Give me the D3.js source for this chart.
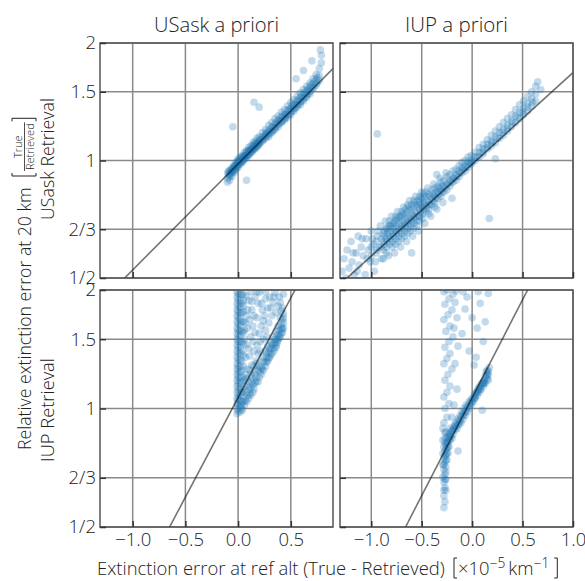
<!DOCTYPE html>
<html>
<head>
<meta charset="utf-8">
<script src="https://cdn.jsdelivr.net/npm/d3@7"></script>
<style>
  body { margin: 0; background: #fff; }
  text { font-family: "Open Sans", Lato, sans-serif; font-weight: 300; fill: #222; }
</style>
</head>
<body>
<div id="viz"></div>
<script>
// axis ticks / labels
var yTicks = [0.5, 2 / 3, 1, 1.5, 2];
var yTickLabels = ["1/2", "2/3", "1", "1.5", "2"];
var xTicks = [-1.0, -0.5, 0.0, 0.5, 1.0];
var xTickLabels = ["\u22121.0", "\u22120.5", "0.0", "0.5", "1.0"];
var colTitles = ["USask a priori", "IUP a priori"];
var rowTitles = ["USask Retrieval", "IUP Retrieval"];
var xDomains = [[-1.31, 0.9], [-1.31, 1.0]];

// fitted lines (two end points each, data units)
var fitUsaskUsask = [[-1.076, 0.5], [0.9, 1.72]];
var fitUsaskIup = [[-1.24, 0.5], [1.0, 1.68]];
var fitIupUsask = [[-0.65, 0.5], [0.54, 2.0]];
var fitIupIup = [[-0.66, 0.5], [0.55, 2.0]];

// scatter: [extinction error, relative error]
var ptsUsaskUsask = [
  [-0.10,0.90],[-0.10,0.93],[-0.10,0.88],[-0.08,0.91],[-0.08,0.94],[-0.08,0.89],[-0.08,0.92],
  [-0.06,0.93],[-0.06,0.95],[-0.06,0.91],[-0.06,0.94],[-0.04,0.94],[-0.04,0.96],[-0.04,0.93],[-0.04,0.97],
  [-0.02,0.95],[-0.02,0.97],[-0.02,0.99],[-0.02,0.96],[0.00,0.97],[0.00,0.99],[0.00,1.00],[0.00,0.96],[0.00,1.01],
  [0.02,0.99],[0.02,1.00],[0.02,1.02],[0.02,0.98],[0.04,1.00],[0.04,1.02],[0.04,1.03],[0.04,0.99],
  [0.06,1.01],[0.06,1.03],[0.06,1.05],[0.06,1.02],[0.08,1.03],[0.08,1.05],[0.08,1.06],[0.08,1.02],
  [0.10,1.04],[0.10,1.06],[0.10,1.08],[0.10,1.03],[0.12,1.05],[0.12,1.07],[0.12,1.09],[0.12,1.06],
  [0.14,1.06],[0.14,1.09],[0.14,1.11],[0.14,1.07],[0.16,1.08],[0.16,1.10],[0.16,1.12],[0.16,1.07],
  [0.18,1.09],[0.18,1.11],[0.18,1.14],[0.18,1.10],[0.20,1.10],[0.20,1.13],[0.20,1.15],[0.20,1.11],
  [0.23,1.12],[0.23,1.15],[0.23,1.18],[0.23,1.13],[0.26,1.14],[0.26,1.17],[0.26,1.20],[0.26,1.16],
  [0.29,1.17],[0.29,1.19],[0.29,1.23],[0.29,1.15],[0.32,1.19],[0.32,1.22],[0.32,1.25],[0.32,1.18],
  [0.35,1.21],[0.35,1.24],[0.35,1.28],[0.35,1.20],[0.38,1.24],[0.38,1.27],[0.38,1.30],[0.38,1.22],
  [0.41,1.26],[0.41,1.29],[0.41,1.33],[0.41,1.25],[0.44,1.28],[0.44,1.31],[0.44,1.35],[0.44,1.27],
  [0.47,1.31],[0.47,1.34],[0.47,1.38],[0.47,1.29],[0.50,1.33],[0.50,1.36],[0.50,1.41],[0.50,1.31],
  [0.53,1.36],[0.53,1.39],[0.53,1.43],[0.53,1.34],[0.56,1.39],[0.56,1.42],[0.56,1.46],[0.56,1.37],
  [0.59,1.41],[0.59,1.45],[0.59,1.49],[0.59,1.39],[0.62,1.44],[0.62,1.48],[0.62,1.52],[0.62,1.42],
  [0.65,1.47],[0.65,1.51],[0.65,1.55],[0.65,1.45],[0.68,1.50],[0.68,1.54],[0.68,1.58],[0.68,1.48],
  [0.71,1.53],[0.71,1.57],[0.71,1.62],[0.74,1.56],[0.74,1.61],[0.74,1.66],[0.77,1.60],[0.77,1.65],[0.77,1.72],
  [0.79,1.78],[0.79,1.86],[0.78,1.92],
  [-0.05,1.22],[0.15,1.41],[0.20,1.37],[0.08,0.89],[0.55,1.62],[0.62,1.70],[0.70,1.80],
  [-0.09,0.92],[-0.09,0.94],[-0.07,0.93],[-0.07,0.95],[-0.05,0.94],[-0.05,0.96],[-0.03,0.95],[-0.03,0.97],
  [-0.01,0.97],[-0.01,0.99],[0.01,0.98],[0.01,1.00],[0.03,0.99],[0.03,1.01],[0.05,1.00],[0.05,1.02],
  [0.07,1.01],[0.07,1.03],[0.09,1.03],[0.09,1.05],[0.11,1.04],[0.11,1.06],[0.13,1.05],[0.13,1.07],
  [0.15,1.07],[0.15,1.09],[0.17,1.08],[0.17,1.10],[0.19,1.09],[0.19,1.11],[0.21,1.11],[0.21,1.13],
  [0.24,1.13],[0.24,1.15],[0.27,1.15],[0.27,1.18],[0.30,1.17],[0.30,1.20],[0.33,1.19],[0.33,1.22],
  [0.36,1.22],[0.36,1.25],[0.39,1.24],[0.39,1.27],[0.42,1.26],[0.42,1.30],[0.45,1.29],[0.45,1.32],
  [0.48,1.31],[0.48,1.35],[0.51,1.34],[0.51,1.38],[0.54,1.36],[0.54,1.40],[0.57,1.39],[0.57,1.43],
  [0.60,1.42],[0.60,1.46],[0.63,1.45],[0.63,1.49],[0.66,1.48],[0.66,1.52],[0.69,1.51],[0.69,1.56],
  [0.72,1.54],[0.72,1.59],[0.75,1.58],[0.75,1.63]
];

var ptsUsaskIup = [
  [-1.29,0.52],[-1.27,0.56],[-1.25,0.50],[-1.24,0.59],[-1.22,0.53],[-1.20,0.62],[-1.19,0.55],[-1.17,0.51],
  [-1.15,0.58],[-1.13,0.64],[-1.12,0.54],[-1.10,0.60],[-1.08,0.57],[-1.06,0.51],[-1.05,0.63],[-1.03,0.59],
  [-1.01,0.55],[-1.00,0.66],[-0.98,0.61],[-0.97,0.52],[-0.95,0.58],[-0.94,0.64],[-0.92,0.60],[-0.91,0.68],[-0.90,0.56],
  [-0.88,0.59],[-0.88,0.62],[-0.88,0.65],[-0.85,0.60],[-0.85,0.63],[-0.85,0.67],[-0.85,0.58],
  [-0.82,0.61],[-0.82,0.64],[-0.82,0.68],[-0.82,0.70],[-0.79,0.62],[-0.79,0.65],[-0.79,0.69],[-0.79,0.60],
  [-0.76,0.63],[-0.76,0.66],[-0.76,0.70],[-0.76,0.72],[-0.76,0.61],[-0.73,0.64],[-0.73,0.67],[-0.73,0.71],[-0.73,0.62],
  [-0.70,0.65],[-0.70,0.68],[-0.70,0.72],[-0.70,0.74],[-0.70,0.63],[-0.67,0.66],[-0.67,0.69],[-0.67,0.73],[-0.67,0.64],
  [-0.64,0.67],[-0.64,0.70],[-0.64,0.74],[-0.64,0.77],[-0.64,0.65],[-0.61,0.68],[-0.61,0.71],[-0.61,0.75],[-0.61,0.66],
  [-0.58,0.69],[-0.58,0.72],[-0.58,0.76],[-0.58,0.79],[-0.58,0.67],[-0.55,0.70],[-0.55,0.73],[-0.55,0.77],[-0.55,0.68],
  [-0.52,0.72],[-0.52,0.75],[-0.52,0.78],[-0.52,0.81],[-0.52,0.70],[-0.49,0.73],[-0.49,0.76],[-0.49,0.80],[-0.49,0.71],
  [-0.46,0.74],[-0.46,0.77],[-0.46,0.81],[-0.46,0.83],[-0.43,0.75],[-0.43,0.78],[-0.43,0.82],[-0.43,0.73],
  [-0.40,0.77],[-0.40,0.80],[-0.40,0.84],[-0.37,0.78],[-0.37,0.81],[-0.37,0.85],[-0.37,0.76],
  [-0.34,0.80],[-0.34,0.83],[-0.34,0.86],[-0.31,0.81],[-0.31,0.84],[-0.31,0.88],[-0.28,0.83],[-0.28,0.86],[-0.28,0.89],
  [-0.25,0.84],[-0.25,0.87],[-0.25,0.91],[-0.22,0.86],[-0.22,0.89],[-0.22,0.92],[-0.19,0.88],[-0.19,0.90],[-0.19,0.94],
  [-0.16,0.89],[-0.16,0.92],[-0.16,0.95],[-0.13,0.91],[-0.13,0.94],[-0.13,0.97],[-0.10,0.93],[-0.10,0.96],[-0.10,0.99],
  [-0.07,0.94],[-0.07,0.97],[-0.07,1.00],[-0.04,0.96],[-0.04,0.99],[-0.04,1.02],[-0.01,0.98],[-0.01,1.00],[-0.01,1.03],
  [0.03,1.00],[0.03,1.02],[0.03,1.05],[0.07,1.02],[0.07,1.05],[0.07,1.08],[0.11,1.04],[0.11,1.07],[0.11,1.10],
  [0.15,1.07],[0.15,1.10],[0.15,1.13],[0.19,1.09],[0.19,1.12],[0.19,1.16],[0.23,1.11],[0.23,1.15],[0.23,1.19],
  [0.27,1.14],[0.27,1.18],[0.27,1.22],[0.31,1.16],[0.31,1.20],[0.31,1.25],[0.35,1.19],[0.35,1.23],[0.35,1.28],
  [0.39,1.22],[0.39,1.26],[0.39,1.31],[0.43,1.25],[0.43,1.30],[0.43,1.35],[0.47,1.28],[0.47,1.33],[0.47,1.39],
  [0.51,1.31],[0.51,1.36],[0.51,1.42],[0.55,1.34],[0.55,1.40],[0.55,1.46],[0.59,1.38],[0.59,1.44],[0.59,1.50],
  [0.63,1.42],[0.63,1.48],[0.63,1.55],
  [-0.94,1.17],[0.17,0.71],[0.23,1.01],[0.65,1.59],[0.68,1.52],[-0.60,0.58],[-0.35,0.92],[-0.20,0.80],
  [-1.00,0.57],[-1.00,0.60],[-0.95,0.59],[-0.95,0.62],[-0.90,0.60],[-0.90,0.63],[-0.87,0.61],[-0.87,0.64],
  [-0.87,0.66],[-0.84,0.62],[-0.84,0.65],[-0.84,0.67],[-0.81,0.63],[-0.81,0.66],[-0.81,0.68],[-0.78,0.64],
  [-0.78,0.67],[-0.78,0.69],[-0.75,0.65],[-0.75,0.68],[-0.75,0.71],[-0.72,0.66],[-0.72,0.69],[-0.72,0.72],
  [-0.69,0.67],[-0.69,0.70],[-0.69,0.73],[-0.66,0.68],[-0.66,0.71],[-0.66,0.75],[-0.63,0.69],[-0.63,0.72],
  [-0.63,0.76],[-0.60,0.70],[-0.60,0.73],[-0.60,0.77],[-0.57,0.71],[-0.57,0.74],[-0.57,0.78],[-0.54,0.72],
  [-0.54,0.76],[-0.54,0.79],[-0.51,0.74],[-0.51,0.77],[-0.51,0.80],[-0.48,0.75],[-0.48,0.78],[-0.48,0.82],
  [-0.45,0.76],[-0.45,0.79],[-0.42,0.77],[-0.42,0.81],[-0.39,0.79],[-0.39,0.82],[-0.36,0.80],[-0.36,0.83],
  [-0.33,0.82],[-0.33,0.85],[-0.30,0.83],[-0.30,0.86],[-0.27,0.85],[-0.24,0.87],[-0.21,0.88],[-0.18,0.90],
  [-0.15,0.91],[-0.12,0.93],[-0.09,0.95],[-0.06,0.96],[-0.03,0.98],[0.00,0.99],[0.05,1.02],[0.10,1.05],
  [0.15,1.08],[0.20,1.11],[0.25,1.14],[0.30,1.18],[0.35,1.21],[0.40,1.25],[0.45,1.29],[0.50,1.33],
  [0.55,1.37],[0.60,1.41],
  [-0.88,0.56],[-0.86,0.70],[-0.83,0.57],[-0.80,0.72],[-0.77,0.58],[-0.74,0.74],[-0.71,0.60],[-0.68,0.76],
  [-0.65,0.62],[-0.62,0.79],[-0.59,0.64],[-0.56,0.81],[-0.53,0.66],[-0.50,0.83],[-0.47,0.69],[-0.44,0.85],
  [-0.41,0.72],[-0.38,0.87],[-0.35,0.75],[-0.32,0.90],[-0.29,0.78],[-0.26,0.93],[-1.18,0.58],[-1.14,0.52],
  [-1.09,0.63],[-1.04,0.56],[-0.99,0.63],[-0.96,0.55],[-0.93,0.66]
];

var ptsIupUsask = [
  [-0.01,0.97],[-0.01,1.00],[-0.01,1.03],[-0.01,1.06],[-0.01,1.10],[-0.01,1.14],[-0.01,1.18],[-0.01,1.22],
  [-0.01,1.26],[-0.01,1.30],[-0.01,1.35],[-0.01,1.40],[-0.01,1.45],[-0.01,1.50],[-0.01,1.55],[-0.01,1.60],
  [-0.01,1.66],[-0.01,1.72],[-0.01,1.78],[-0.01,1.85],[-0.01,1.92],[-0.01,1.98],
  [0.02,0.98],[0.02,1.01],[0.02,1.05],[0.02,1.08],[0.02,1.12],[0.02,1.16],[0.02,1.20],[0.02,1.24],
  [0.02,1.28],[0.02,1.33],[0.02,1.38],[0.02,1.43],[0.02,1.48],[0.02,1.53],[0.02,1.58],[0.02,1.63],
  [0.02,1.69],[0.02,1.75],[0.02,1.81],[0.02,1.88],[0.02,1.95],
  [0.05,1.04],[0.05,1.12],[0.05,1.20],[0.05,1.28],[0.05,1.37],[0.05,1.46],[0.05,1.56],[0.05,1.66],[0.05,1.76],[0.05,1.88],
  [0.04,0.99],[0.06,1.02],[0.08,1.04],[0.10,1.06],[0.12,1.08],[0.14,1.10],[0.05,1.07],[0.08,1.10],[0.11,1.12],
  [0.14,1.15],[0.17,1.17],[0.20,1.20],[0.06,1.14],[0.10,1.17],[0.13,1.20],[0.16,1.22],[0.19,1.25],[0.22,1.27],
  [0.07,1.22],[0.11,1.25],[0.15,1.28],[0.18,1.30],[0.09,1.08],[0.12,1.13],[0.16,1.16],
  [0.22,1.22],[0.24,1.25],[0.26,1.28],[0.28,1.32],[0.30,1.35],[0.32,1.38],[0.34,1.42],[0.36,1.45],
  [0.38,1.49],[0.40,1.52],[0.42,1.56],[0.43,1.60],[0.25,1.31],[0.27,1.35],[0.29,1.39],[0.31,1.42],
  [0.33,1.46],[0.35,1.50],[0.37,1.54],[0.39,1.58],[0.41,1.63],[0.42,1.68],[0.43,1.74],[0.42,1.80],
  [0.40,1.86],[0.23,1.35],[0.26,1.40],[0.28,1.44],[0.31,1.48],[0.33,1.52],[0.36,1.57],[0.38,1.62],[0.40,1.70],
  [0.07,1.35],[0.10,1.42],[0.06,1.50],[0.12,1.52],[0.15,1.40],[0.18,1.45],[0.09,1.60],[0.14,1.62],
  [0.20,1.55],[0.22,1.62],[0.08,1.72],[0.13,1.78],[0.18,1.70],[0.25,1.72],[0.28,1.80],[0.10,1.88],
  [0.16,1.92],[0.22,1.85],[0.30,1.92],[0.35,1.97],[0.05,1.95],[0.12,1.98],[0.20,1.97],[0.26,1.98],
  [0.33,1.86],[0.36,1.75],[0.17,1.32],[0.21,1.40],[0.24,1.50],[0.05,1.82],[0.07,1.65],
  [0.00,0.985],[0.00,1.02],[0.00,1.05],[0.00,1.08],[0.00,1.12],[0.00,1.16],[0.00,1.20],[0.00,1.24],
  [0.00,1.28],[0.00,1.33],[0.00,1.38],[0.00,1.43],[0.00,1.48],[0.00,1.53],[0.00,1.58],[0.00,1.64],
  [0.00,1.70],[0.00,1.76],[0.00,1.82],[0.00,1.89],[0.00,1.96],
  [0.035,1.00],[0.035,1.04],[0.035,1.10],[0.035,1.17],[0.035,1.25],[0.035,1.32],[0.035,1.40],
  [0.035,1.48],[0.035,1.57],[0.035,1.66],[0.035,1.75],[0.035,1.85],[0.035,1.95],
  [0.03,1.02],[0.07,1.05],[0.11,1.09],[0.15,1.12],[0.19,1.17],[0.09,1.14],[0.13,1.17],[0.17,1.20],
  [0.21,1.24],[0.08,1.19],[0.12,1.22],[0.16,1.25],[0.20,1.28],[0.24,1.32],[0.04,1.10],[0.06,1.18],
  [0.09,1.26],[0.13,1.29],
  [0.23,1.26],[0.27,1.31],[0.29,1.34],[0.31,1.37],[0.34,1.40],[0.36,1.43],[0.37,1.47],[0.39,1.51],
  [0.41,1.55],[0.42,1.59],[0.43,1.65],[0.27,1.38],[0.30,1.42],[0.32,1.45],[0.35,1.47],[0.37,1.50],
  [0.39,1.54],[0.41,1.60],[0.43,1.70],[0.41,1.77],[0.38,1.82],[0.39,1.92],[0.43,1.95],
  [0.08,1.45],[0.11,1.36],[0.14,1.48],[0.16,1.56],[0.19,1.38],[0.21,1.48],[0.26,1.58],[0.29,1.65],
  [0.32,1.72],[0.23,1.78],[0.19,1.85],[0.15,1.72],[0.11,1.68],[0.06,1.58],[0.09,1.78],[0.26,1.90],
  [0.31,1.80],[0.34,1.92],[0.18,1.98],[0.08,1.93],[0.13,1.87],[0.24,1.67],[0.27,1.52]
];

var ptsIupIup = [
  [-0.28,0.60],[-0.27,0.63],[-0.28,0.65],[-0.26,0.66],[-0.27,0.68],[-0.28,0.70],[-0.26,0.71],[-0.27,0.73],
  [-0.25,0.74],[-0.28,0.75],[-0.26,0.76],[-0.24,0.77],[-0.27,0.78],[-0.25,0.79],[-0.23,0.80],[-0.28,0.80],
  [-0.26,0.81],[-0.24,0.82],[-0.22,0.83],[-0.27,0.84],[-0.25,0.84],[-0.21,0.85],[-0.23,0.86],[-0.19,0.86],
  [-0.26,0.87],[-0.20,0.88],[-0.17,0.88],[-0.22,0.89],[-0.15,0.89],[-0.18,0.90],[-0.13,0.91],[-0.16,0.92],
  [-0.11,0.92],[-0.14,0.94],[-0.09,0.94],[-0.12,0.96],[-0.07,0.96],[-0.10,0.98],[-0.05,0.98],[-0.08,1.00],
  [-0.03,1.00],[-0.06,1.02],[-0.01,1.02],[-0.03,1.04],[0.01,1.04],[0.00,1.06],[0.03,1.06],[0.02,1.08],
  [0.05,1.08],[0.04,1.10],[0.07,1.10],[0.06,1.12],[0.09,1.12],[0.08,1.14],[0.11,1.14],[0.10,1.16],
  [0.13,1.16],[0.12,1.18],[0.15,1.19],[0.13,1.21],[0.16,1.22],[0.15,1.25],[0.17,1.27],[0.14,1.24],
  [0.16,1.18],[-0.28,0.56],
  [-0.24,0.85],[-0.20,0.84],[-0.17,0.91],[-0.13,0.93],[-0.09,0.97],[-0.05,1.01],[-0.01,1.05],[0.03,1.09],
  [0.07,1.13],[0.11,1.17],[-0.27,0.82],[-0.29,0.72],[-0.29,0.67],[-0.26,0.62],
  [-0.28,0.92],[-0.25,0.95],[-0.27,1.00],[-0.23,1.03],[-0.28,1.07],[-0.25,1.10],[-0.22,1.14],[-0.27,1.18],
  [-0.24,1.22],[-0.20,1.26],[-0.28,1.30],[-0.25,1.34],[-0.22,1.38],[-0.27,1.43],[-0.23,1.48],[-0.19,1.52],
  [-0.26,1.57],[-0.22,1.62],[-0.28,1.68],[-0.24,1.73],[-0.20,1.78],[-0.27,1.84],[-0.23,1.90],[-0.19,1.95],
  [-0.28,1.98],[-0.25,2.00],[-0.16,1.99],[-0.17,1.86],[-0.15,1.70],[-0.18,1.60],[-0.14,1.44],[-0.17,1.30],
  [-0.15,1.12],[-0.18,1.02],[-0.20,0.95],
  [0.16,1.96],[0.08,1.85],[-0.07,1.79],[0.11,1.48],[0.05,1.60],[0.02,1.29],[0.10,0.99],[-0.14,0.78],
  [-0.05,1.92],[0.00,1.70],[-0.10,1.55],[0.13,1.66],[-0.03,1.40],[0.06,1.98],[-0.09,1.98],[0.04,1.35],
  [-0.27,0.58],[-0.28,0.62],[-0.27,0.66],[-0.26,0.69],[-0.28,0.72],[-0.26,0.74],[-0.27,0.76],[-0.25,0.77],
  [-0.26,0.79],[-0.24,0.80],[-0.25,0.82],[-0.23,0.83],[-0.22,0.85],[-0.21,0.87],[-0.19,0.88],[-0.18,0.89],
  [-0.16,0.90],[-0.14,0.91],[-0.12,0.93],[-0.11,0.95],[-0.09,0.96],[-0.07,0.98],[-0.06,0.99],[-0.04,1.01],
  [-0.02,1.03],[0.00,1.04],[0.02,1.06],[0.03,1.07],[0.05,1.10],[0.06,1.11],[0.08,1.12],[0.09,1.15],
  [0.11,1.16],[0.12,1.16],[0.14,1.20],[0.15,1.22],[0.16,1.24],[-0.29,0.77],[-0.29,0.83],[-0.27,0.87],[-0.29,0.89]
];

var panels = [
  { row: 0, col: 0, pts: ptsUsaskUsask, fit: fitUsaskUsask },
  { row: 0, col: 1, pts: ptsUsaskIup, fit: fitUsaskIup },
  { row: 1, col: 0, pts: ptsIupUsask, fit: fitIupUsask },
  { row: 1, col: 1, pts: ptsIupIup, fit: fitIupIup }
];

var colX = [[100, 333], [340, 573]];
var rowY = [[43, 278], [290, 527]];
var tickFont = 18.5;

var svg = d3.select("#viz").append("svg")
    .attr("width", 585)
    .attr("height", 581);

// scale a text's font size so it spans a given width
function fitWidth(t, target) {
  var s = +t.attr("font-size");
  var L = t.node().getComputedTextLength();
  t.attr("font-size", s * target / L);
  return s * target / L;
}

panels.forEach(function(p, i) {
  var x = d3.scaleLinear().domain(xDomains[p.col]).range(colX[p.col]);
  var y = d3.scaleLog().domain([0.5, 2]).range([rowY[p.row][1], rowY[p.row][0]]);
  var w = colX[p.col][1] - colX[p.col][0], h = rowY[p.row][1] - rowY[p.row][0];
  var xt = xTicks.filter(function(d) { return d >= xDomains[p.col][0] && d <= xDomains[p.col][1] + 1e-9; });

  var g = svg.append("g");
  g.append("clipPath").attr("id", "clip" + i)
    .append("rect")
    .attr("x", colX[p.col][0]).attr("y", rowY[p.row][0])
    .attr("width", w).attr("height", h);

  // grid
  g.append("g").selectAll("line").data(xt).enter().append("line")
    .attr("x1", function(d) { return x(d); }).attr("x2", function(d) { return x(d); })
    .attr("y1", rowY[p.row][0]).attr("y2", rowY[p.row][1])
    .attr("stroke", "#8a8a8a").attr("stroke-width", 1.5);
  g.append("g").selectAll("line").data(yTicks).enter().append("line")
    .attr("y1", function(d) { return y(d); }).attr("y2", function(d) { return y(d); })
    .attr("x1", colX[p.col][0]).attr("x2", colX[p.col][1])
    .attr("stroke", "#8a8a8a").attr("stroke-width", 1.5);

  // scatter
  g.append("g").attr("clip-path", "url(#clip" + i + ")")
    .selectAll("circle").data(p.pts).enter().append("circle")
    .attr("cx", function(d) { return x(d[0]); })
    .attr("cy", function(d) { return y(d[1]); })
    .attr("r", 3.8)
    .attr("fill", "#1f77b4")
    .attr("fill-opacity", 0.27);

  // fit line
  g.append("path").attr("clip-path", "url(#clip" + i + ")")
    .datum(p.fit)
    .attr("d", d3.line().x(function(d) { return x(d[0]); }).y(function(d) { return y(d[1]); }))
    .attr("fill", "none").attr("stroke", "#000").attr("stroke-opacity", 0.55).attr("stroke-width", 1.6);

  // spines
  g.append("rect")
    .attr("x", colX[p.col][0]).attr("y", rowY[p.row][0])
    .attr("width", w).attr("height", h)
    .attr("fill", "none").attr("stroke", "#555").attr("stroke-width", 1.5);

  // axes (ticks inward)
  var ax = d3.axisLeft(y).tickValues(yTicks)
    .tickFormat(function(d, k) { return p.col === 0 ? yTickLabels[k] : ""; })
    .tickSizeInner(-6).tickSizeOuter(0).tickPadding(4);
  var ga = g.append("g").attr("transform", "translate(" + colX[p.col][0] + ",0)").call(ax);
  var bx = d3.axisBottom(x).tickValues(xt)
    .tickFormat(function(d) { return p.row === 1 ? xTickLabels[xTicks.indexOf(d)] : ""; })
    .tickSizeInner(-6).tickSizeOuter(0).tickPadding(6);
  var gb = g.append("g").attr("transform", "translate(0," + rowY[p.row][1] + ")").call(bx);
  [ga, gb].forEach(function(a) {
    a.select(".domain").remove();
    a.selectAll(".tick line").attr("stroke", "#333").attr("stroke-width", 1.5);
    a.selectAll(".tick text").attr("font-size", tickFont).attr("fill", "#222")
      .attr("font-family", "'Open Sans', Lato, sans-serif");
  });
});

// column titles
colTitles.forEach(function(t, c) {
  var tt = svg.append("text")
    .attr("x", (colX[c][0] + colX[c][1]) / 2).attr("y", 32)
    .attr("text-anchor", "middle").attr("font-size", 20)
    .text(t);
  fitWidth(tt, c === 0 ? 125 : 103);
});

// row titles
rowTitles.forEach(function(t, r) {
  var tt = svg.append("text")
    .attr("transform", "translate(54," + (r === 0 ? 159 : 410) + ") rotate(-90)")
    .attr("text-anchor", "middle").attr("font-size", 17)
    .text(t);
  fitWidth(tt, r === 0 ? 122 : 104);
});

// square bracket drawn in local coords
function bracket(sel, xPos, y0, y1, open) {
  var s = open ? 3 : -3;
  sel.append("path")
    .attr("d", "M" + (xPos + s) + "," + y0 + "H" + xPos + "V" + y1 + "H" + (xPos + s))
    .attr("fill", "none").attr("stroke", "#222").attr("stroke-width", 1);
}

// y super label
var yl = svg.append("g").attr("transform", "translate(31,450) rotate(-90)");
var ymain = yl.append("text").attr("x", 0).attr("y", 0).attr("font-size", 17)
  .text("Relative extinction error at 20 km");
fitWidth(ymain, 263);
var bx0 = 263 + 11;
bracket(yl, bx0, -19, 5, true);
var fx = bx0 + 5;
var tTop = yl.append("text").attr("y", -9).attr("font-size", 11).attr("text-anchor", "middle").text("True");
var tBot = yl.append("text").attr("y", 3).attr("font-size", 11).attr("text-anchor", "middle").text("Retrieved");
var fw = Math.max(tTop.node().getComputedTextLength(), tBot.node().getComputedTextLength());
tTop.attr("x", fx + fw / 2 + 1);
tBot.attr("x", fx + fw / 2 + 1);
yl.append("line").attr("x1", fx).attr("x2", fx + fw + 2).attr("y1", -6.5).attr("y2", -6.5)
  .attr("stroke", "#222").attr("stroke-width", 0.8);
bracket(yl, fx + fw + 6, -19, 5, false);

// x super label
var xl = svg.append("g").attr("transform", "translate(97,575)");
var xmain = xl.append("text").attr("font-size", 17)
  .text("Extinction error at ref alt (True - Retrieved)");
var fs = fitWidth(xmain, 348);
var ux0 = 348 + 9;
bracket(xl, ux0, -17, 3, true);
var units = xl.append("text").attr("x", ux0 + 4).attr("font-size", fs);
units.append("tspan").text("\u00d710");
units.append("tspan").attr("dy", -7.5).attr("font-size", fs * 0.75).text("\u22125");
units.append("tspan").attr("dy", 7.5).text("\u2009km");
units.append("tspan").attr("dy", -7.5).attr("font-size", fs * 0.75).text("\u22121");
var uLen = units.node().getComputedTextLength();
bracket(xl, ux0 + 4 + uLen + 8, -17, 3, false);
</script>
</body>
</html>
